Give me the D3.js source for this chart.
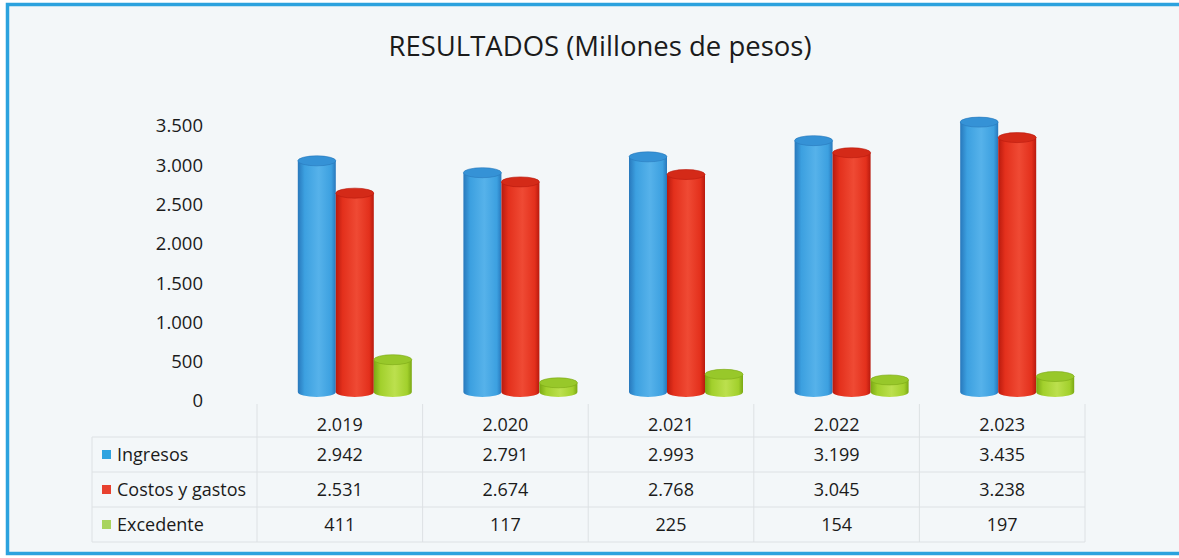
<!DOCTYPE html>
<html>
<head>
<meta charset="utf-8">
<script src="https://cdn.jsdelivr.net/npm/d3@7"></script>
<style>
  body { margin: 0; background: #fff; }
  text { font-family: "Open Sans", sans-serif; fill: #1b1b1b; }
</style>
</head>
<body>
<svg id="chart" width="1179" height="558"></svg>
<script>
// data
var years = [2019, 2020, 2021, 2022, 2023];
var seriesNames = ["Ingresos", "Costos y gastos", "Excedente"];
var ingresos = [2942, 2791, 2993, 3199, 3435];
var costos = [2531, 2674, 2768, 3045, 3238];
var excedente = [411, 117, 225, 154, 197];
var yTicks = [0, 500, 1000, 1500, 2000, 2500, 3000, 3500];

var seriesValues = [ingresos, costos, excedente];
var colors = [
    { dark: "#2878bc", mid: "#3ca0e0", light: "#56b2ea", top: "#3592d6", key: "#2ea3e0" },
    { dark: "#b81a0e", mid: "#e3301c", light: "#ef4a34", top: "#d42a18", key: "#e8412f" },
    { dark: "#7aa814", mid: "#a2d02c", light: "#bce04e", top: "#98c82a", key: "#a8d45e" }
];

var fmt = d3.formatLocale({ decimal: ",", thousands: ".", grouping: [3], currency: ["", ""] }).format(",d");

var svg = d3.select("#chart");

// frame
svg.append("rect")
    .attr("x", 7.5).attr("y", 4.5)
    .attr("width", 1190).attr("height", 549)
    .attr("fill", "#f3f7f9")
    .attr("stroke", "#2ba2de")
    .attr("stroke-width", 3.5);

svg.append("text")
    .attr("x", 600).attr("y", 56)
    .attr("text-anchor", "middle")
    .style("font-size", "27.5px")
    .text("RESULTADOS (Millones de pesos)");

// scales
var x = d3.scaleBand().domain(years).range([257, 1085]);
var xs = d3.scaleBand().domain(seriesNames).range([0, 114]);
var y = d3.scaleLinear().domain([0, 3500]).range([392, 117]);
var groupShift = 15;

// y axis
var yAxis = svg.append("g")
    .attr("transform", "translate(206,9)")
    .call(d3.axisLeft(y).tickValues(yTicks).tickFormat(fmt).tickSize(0).tickPadding(3));
yAxis.select(".domain").remove();
yAxis.selectAll("text")
    .style("font-family", "'Open Sans', sans-serif")
    .style("font-size", "18.5px")
    .attr("fill", "#1b1b1b");

// gradients for cylinders
var defs = svg.append("defs");
colors.forEach(function(c, i) {
    var g = defs.append("linearGradient").attr("id", "cyl" + i)
        .attr("x1", "0%").attr("x2", "100%").attr("y1", "0%").attr("y2", "0%");
    g.append("stop").attr("offset", "0%").attr("stop-color", c.dark);
    g.append("stop").attr("offset", "18%").attr("stop-color", c.mid);
    g.append("stop").attr("offset", "55%").attr("stop-color", c.light);
    g.append("stop").attr("offset", "88%").attr("stop-color", c.mid);
    g.append("stop").attr("offset", "100%").attr("stop-color", c.dark);
});

// bars as cylinders
var rows = [];
years.forEach(function(yr, j) {
    seriesNames.forEach(function(s, i) {
        rows.push({ year: yr, series: s, si: i, value: seriesValues[i][j] });
    });
});

var ry = 5;
var bars = svg.append("g").attr("id", "bars");
var cyl = bars.selectAll(".bar").data(rows).enter()
    .append("g").attr("class", "bar");

cyl.append("path")
    .attr("fill", d => "url(#cyl" + d.si + ")")
    .attr("d", function(d) {
        var x0 = x(d.year) + x.bandwidth() / 2 + groupShift - 57 + xs(d.series);
        var x1 = x0 + xs.bandwidth();
        var rx = xs.bandwidth() / 2;
        var yt = y(d.value), yb = y(0);
        return "M" + x0 + "," + yt + "L" + x0 + "," + yb +
            "A" + rx + "," + ry + " 0 0 0 " + x1 + "," + yb +
            "L" + x1 + "," + yt + "Z";
    });

cyl.append("ellipse")
    .attr("cx", d => x(d.year) + x.bandwidth() / 2 + groupShift - 57 + xs(d.series) + xs.bandwidth() / 2)
    .attr("cy", d => y(d.value))
    .attr("rx", xs.bandwidth() / 2)
    .attr("ry", ry)
    .attr("fill", d => colors[d.si].top)
    .attr("stroke", d => colors[d.si].dark)
    .attr("stroke-width", 0.6);

// data table
var table = svg.append("g").attr("id", "table");
var rowTop = [404, 437, 472, 507];
var rowBottom = 542;
var labelLeft = 92;
var lineColor = "#dde1e4";

rowTop.slice(1).concat([rowBottom]).forEach(function(ry0) {
    table.append("line")
        .attr("x1", labelLeft).attr("x2", x.range()[1])
        .attr("y1", ry0).attr("y2", ry0)
        .attr("stroke", lineColor);
});
table.append("line")
    .attr("x1", labelLeft).attr("x2", labelLeft)
    .attr("y1", rowTop[1]).attr("y2", rowBottom)
    .attr("stroke", lineColor);
years.forEach(function(yr) {
    table.append("line")
        .attr("x1", x(yr)).attr("x2", x(yr))
        .attr("y1", rowTop[0]).attr("y2", rowBottom)
        .attr("stroke", lineColor);
});
table.append("line")
    .attr("x1", x.range()[1]).attr("x2", x.range()[1])
    .attr("y1", rowTop[0]).attr("y2", rowBottom)
    .attr("stroke", lineColor);

function rowMid(k) {
    var b = k + 1 < rowTop.length ? rowTop[k + 1] : rowBottom;
    return (rowTop[k] + b) / 2;
}

// year header
table.selectAll(".yearLabel").data(years).enter()
    .append("text")
    .attr("class", "yearLabel")
    .attr("x", d => x(d) + x.bandwidth() / 2)
    .attr("y", rowMid(0) + 4)
    .attr("dy", "0.35em")
    .attr("text-anchor", "middle")
    .style("font-size", "18px")
    .text(d => fmt(d));

seriesNames.forEach(function(s, i) {
    var cy = rowMid(i + 1);
    table.append("rect")
        .attr("x", 102).attr("y", cy - 4.5)
        .attr("width", 9).attr("height", 9)
        .attr("fill", colors[i].key);
    table.append("text")
        .attr("x", 117).attr("y", cy)
        .attr("dy", "0.35em")
        .style("font-size", "18px")
        .text(s);
    table.selectAll(".v" + i).data(seriesValues[i]).enter()
        .append("text")
        .attr("class", "v" + i)
        .attr("x", (d, j) => x(years[j]) + x.bandwidth() / 2)
        .attr("y", cy)
        .attr("dy", "0.35em")
        .attr("text-anchor", "middle")
        .style("font-size", "18px")
        .text(d => fmt(d));
});
</script>
</body>
</html>
